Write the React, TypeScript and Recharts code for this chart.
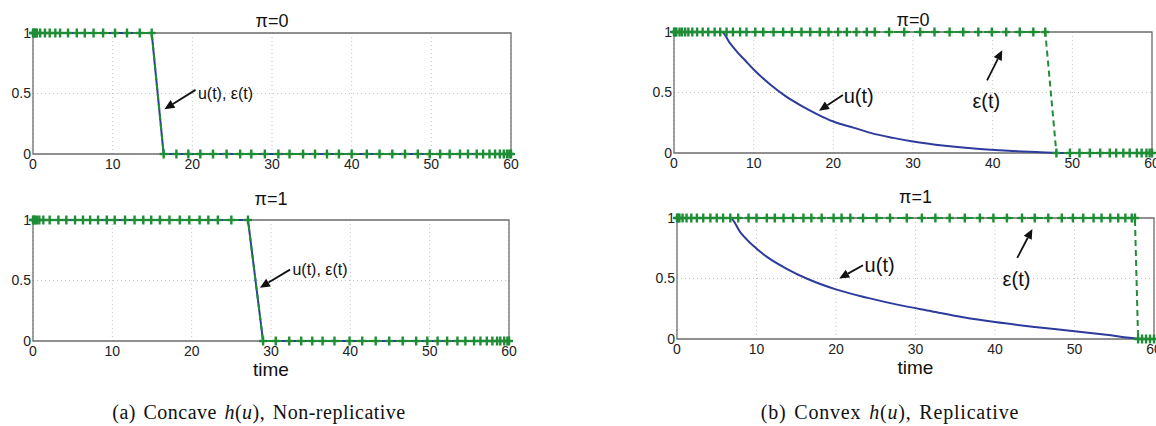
import { LineChart, Line, XAxis, YAxis, CartesianGrid, ReferenceArea, ReferenceLine, ReferenceDot } from 'recharts';

// time axis ticks / value ticks
const xTicks = [0, 10, 20, 30, 40, 50, 60];
const yTicks = [0, 0.5, 1];

// (a) top, pi=0 : epsilon markers at 1 and at 0
const aTopEpsHigh = [0, 0.1, 0.2, 0.35, 0.5, 0.9, 1.5, 2.1, 2.8, 3.4, 4.4, 5.5, 6.5, 7.6, 8.8, 10.3, 11.8, 13.4, 14.9];
const aTopEpsLow = [16.4, 18.0, 19.5, 21.0, 22.6, 24.3, 26.0, 27.4, 29.1, 30.8, 32.2, 33.9, 35.4, 36.9, 38.4, 40.0, 41.9, 43.5, 45.1, 46.7, 48.3, 49.8, 51.1, 52.3, 53.6, 54.6, 55.7, 56.5, 57.3, 58.0, 58.6, 59.1, 59.5, 59.8, 60];
const aTopUTime = [0, 14.9, 16.4, 60];
const aTopUVal = [1, 1, 0, 0];

// (a) bottom, pi=1
const aBotEpsHigh = [0, 0.1, 0.25, 0.5, 0.8, 1.3, 2.1, 3.2, 4.2, 5.3, 6.3, 7.2, 8.2, 9.3, 10.3, 11.6, 12.8, 13.9, 14.9, 16.0, 17.2, 18.5, 19.7, 21.0, 22.1, 23.3, 25.0, 27.1];
const aBotEpsLow = [29.0, 30.6, 32.3, 33.8, 35.2, 36.5, 38.0, 39.9, 41.5, 43.2, 44.9, 46.6, 48.3, 49.7, 51.0, 52.2, 53.5, 54.5, 55.6, 56.4, 57.2, 57.9, 58.5, 58.9, 59.4, 59.8, 60];
const aBotUTime = [0, 27.1, 29.0, 60];
const aBotUVal = [1, 1, 0, 0];

// (b) top, pi=0
const bTopEpsHigh = [0, 0.15, 0.3, 0.7, 1.0, 1.4, 1.8, 2.3, 2.9, 3.6, 4.3, 5.1, 5.8, 6.6, 7.4, 8.3, 9.1, 10.2, 11.2, 12.5, 13.7, 14.8, 16.0, 17.1, 18.3, 19.4, 20.6, 21.7, 22.9, 24.2, 25.2, 27.0, 28.9, 30.9, 32.7, 34.6, 36.3, 38.2, 39.9, 41.7, 43.4, 45.1, 46.6];
const bTopEpsLow = [48.0, 49.7, 50.9, 52.2, 53.5, 54.7, 55.5, 56.4, 57.2, 58.1, 58.7, 59.3, 59.7, 60];
const bTopUTime = [0, 6.0, 7.0, 8.0, 9.0, 10.0, 12.0, 14.0, 16.0, 18.0, 20.0, 22.5, 25.0, 27.5, 30.0, 34.0, 38.0, 42.0, 46.0, 48.0, 60];
const bTopUVal = [1, 1, 0.91, 0.83, 0.76, 0.69, 0.57, 0.47, 0.39, 0.32, 0.26, 0.21, 0.16, 0.125, 0.095, 0.06, 0.035, 0.018, 0.006, 0, 0];

// (b) bottom, pi=1
const bBotEpsHigh = [0, 0.15, 0.3, 0.7, 1.2, 1.8, 2.5, 3.3, 4.2, 5.0, 5.8, 6.7, 7.7, 9.0, 10.0, 11.3, 12.3, 13.4, 14.6, 15.9, 16.9, 18.2, 19.7, 20.7, 21.8, 23.4, 25.1, 26.8, 28.9, 30.8, 32.5, 34.3, 36.2, 38.1, 39.8, 41.5, 43.4, 45.0, 46.7, 48.4, 49.8, 51.1, 52.4, 53.4, 54.5, 55.5, 56.4, 57.2, 57.6];
const bBotEpsLow = [58.0, 58.5, 59.0, 59.5, 60];
const bBotUTime = [0, 6.7, 8.0, 9.6, 11.5, 13.8, 16.3, 20.0, 24.0, 28.0, 32.0, 36.0, 40.0, 45.0, 50.0, 54.0, 58.0, 60];
const bBotUVal = [1, 1, 0.88, 0.77, 0.67, 0.58, 0.5, 0.41, 0.34, 0.28, 0.23, 0.18, 0.14, 0.1, 0.065, 0.035, 0.003, 0];

const BLUE = '#2d3b9c';
const GREEN = '#1f8c36';
const FONT = '"Liberation Sans", Arial, Helvetica, sans-serif';
const SERIF = '"Liberation Serif", "Times New Roman", serif';

const PAD_L = 40;
const PAD_R = 20;
const PAD_T = 25;
const PAD_B = 25;

type Row = { t: number; v: number };
type Note = { text: string; tx: number; ty: number; anchor: 'start' | 'middle'; size: number; from: [number, number]; to: [number, number] };

const pairs = (ts: number[], vs: number[]): Row[] => ts.map((t, i) => ({ t, v: vs[i] }));
const steps = (high: number[], low: number[]): Row[] => [
  ...high.map((t) => ({ t, v: 1 })),
  ...low.map((t) => ({ t, v: 0 })),
];

const panels = [
  {
    id: 'aTop', left: 33, top: 33, w: 478, h: 121, title: 'π=0', titleY: 21, time: false,
    eps: steps(aTopEpsHigh, aTopEpsLow), u: pairs(aTopUTime, aTopUVal), uType: 'linear',
    notes: [{ text: 'u(t), ε(t)', tx: 20.7, ty: 0.5, anchor: 'start', size: 16, from: [20.4, 0.53], to: [16.5, 0.37] }] as Note[],
  },
  {
    id: 'aBot', left: 33, top: 220, w: 476, h: 121, title: 'π=1', titleY: 199, time: true,
    eps: steps(aBotEpsHigh, aBotEpsLow), u: pairs(aBotUTime, aBotUVal), uType: 'linear',
    notes: [{ text: 'u(t), ε(t)', tx: 32.7, ty: 0.59, anchor: 'start', size: 16, from: [32.4, 0.59], to: [28.6, 0.44] }] as Note[],
  },
  {
    id: 'bTop', left: 674, top: 32, w: 478, h: 121, title: 'π=0', titleY: 20, time: false,
    eps: steps(bTopEpsHigh, bTopEpsLow), u: pairs(bTopUTime, bTopUVal), uType: 'monotone',
    notes: [
      { text: 'u(t)', tx: 21.3, ty: 0.47, anchor: 'start', size: 20, from: [21.2, 0.48], to: [18.2, 0.35] },
      { text: 'ε(t)', tx: 39.2, ty: 0.43, anchor: 'middle', size: 20, from: [39.3, 0.6], to: [41.2, 0.85] },
    ] as Note[],
  },
  {
    id: 'bBot', left: 677, top: 218, w: 477, h: 121, title: 'π=1', titleY: 197, time: true,
    eps: steps(bBotEpsHigh, bBotEpsLow), u: pairs(bBotUTime, bBotUVal), uType: 'monotone',
    notes: [
      { text: 'u(t)', tx: 23.6, ty: 0.61, anchor: 'start', size: 20, from: [23.4, 0.61], to: [20.4, 0.5] },
      { text: 'ε(t)', tx: 42.7, ty: 0.5, anchor: 'middle', size: 20, from: [42.8, 0.67], to: [44.7, 0.91] },
    ] as Note[],
  },
];

function PlusDot(props: any) {
  const { cx, cy, index } = props;
  if (cx == null || cy == null) return <g key={index} />;
  return (
    <g key={index} strokeDasharray="none">
      <line x1={cx - 4} y1={cy} x2={cx + 4} y2={cy} stroke={GREEN} strokeWidth={2.4} strokeDasharray="none" />
      <line x1={cx} y1={cy - 4.5} x2={cx} y2={cy + 4.5} stroke={GREEN} strokeWidth={2.4} strokeDasharray="none" />
    </g>
  );
}

function Arrow(props: any) {
  const { x1, y1, x2, y2 } = props;
  if ([x1, y1, x2, y2].some((n) => n == null || isNaN(n))) return <g />;
  const dx = x2 - x1;
  const dy = y2 - y1;
  const len = Math.sqrt(dx * dx + dy * dy) || 1;
  const ux = dx / len;
  const uy = dy / len;
  const bx = x2 - ux * 10;
  const by = y2 - uy * 10;
  const px = -uy * 4.5;
  const py = ux * 4.5;
  return (
    <g>
      <line x1={x1} y1={y1} x2={bx} y2={by} stroke="#111" strokeWidth={1.8} />
      <polygon points={`${x2},${y2} ${bx + px},${by + py} ${bx - px},${by - py}`} fill="#111" />
    </g>
  );
}

function Panel({ cfg }: { cfg: (typeof panels)[number] }) {
  const tickStyle = { fill: '#222', fontSize: 14, fontFamily: FONT };
  return (
    <div style={{ position: 'absolute', left: cfg.left - PAD_L, top: cfg.top - PAD_T }}>
      <LineChart
        width={cfg.w + PAD_L + PAD_R}
        height={cfg.h + PAD_T + PAD_B}
        margin={{ top: PAD_T, right: PAD_R, bottom: 0, left: 0 }}
      >
        <CartesianGrid stroke="#c4c4c4" strokeDasharray="1 3" />
        <XAxis
          type="number"
          dataKey="t"
          domain={[0, 60]}
          ticks={xTicks}
          axisLine={false}
          tickLine={false}
          tickSize={0}
          tickMargin={5}
          height={PAD_B}
          tick={tickStyle}
        />
        <YAxis
          type="number"
          domain={[0, 1]}
          ticks={yTicks}
          axisLine={false}
          tickLine={false}
          tickSize={0}
          tickMargin={2}
          width={PAD_L}
          tick={tickStyle}
        />
        <ReferenceArea x1={0} x2={60} y1={0} y2={1} fill="none" stroke="#6e6e6e" strokeWidth={1.3} ifOverflow="visible" />
        <Line
          data={cfg.u}
          dataKey="v"
          type={cfg.uType as any}
          stroke={BLUE}
          strokeWidth={2}
          dot={false}
          isAnimationActive={false}
        />
        <Line
          data={cfg.eps}
          dataKey="v"
          type="linear"
          stroke={GREEN}
          strokeWidth={2}
          strokeDasharray="6 4"
          dot={PlusDot}
          isAnimationActive={false}
        />
        {cfg.notes.map((n, i) => (
          <ReferenceLine
            key={`l${i}`}
            segment={[{ x: n.from[0], y: n.from[1] }, { x: n.to[0], y: n.to[1] }]}
            ifOverflow="visible"
            shape={Arrow}
          />
        ))}
        {cfg.notes.map((n, i) => (
          <ReferenceDot
            key={`d${i}`}
            x={n.tx}
            y={n.ty}
            ifOverflow="visible"
            shape={(p: any) => (
              <text
                x={p.cx}
                y={p.cy}
                textAnchor={n.anchor}
                dominantBaseline="central"
                fontFamily={FONT}
                fontSize={n.size}
                fill="#111"
              >
                {n.text}
              </text>
            )}
          />
        ))}
      </LineChart>
      <div
        style={{
          position: 'absolute', left: PAD_L, width: cfg.w, top: cfg.titleY - (cfg.top - PAD_T) - 10, textAlign: 'center',
          fontFamily: FONT, fontSize: 18, color: '#111', lineHeight: '20px',
        }}
      >
        {cfg.title}
      </div>
      {cfg.time && (
        <div
          style={{
            position: 'absolute', left: PAD_L, width: cfg.w, top: PAD_T + cfg.h + 19, textAlign: 'center',
            fontFamily: FONT, fontSize: 19, color: '#111', lineHeight: '20px',
          }}
        >
          time
        </div>
      )}
    </div>
  );
}

export default function App() {
  const capStyle = {
    position: 'absolute' as const, top: 400, fontFamily: SERIF, fontSize: 20, color: '#111',
    transform: 'translateX(-50%)', whiteSpace: 'nowrap' as const, letterSpacing: 0.5, wordSpacing: 2,
    lineHeight: '24px',
  };
  return (
    <div style={{ position: 'relative', width: 1156, height: 426, overflow: 'hidden', background: '#fff' }}>
      <style>{'body{margin:0}'}</style>
      {panels.map((p) => (
        <Panel key={p.id} cfg={p} />
      ))}
      <div style={{ ...capStyle, left: 259 }}>
        (a) Concave <i>h</i>(<i>u</i>), Non-replicative
      </div>
      <div style={{ ...capStyle, left: 890, letterSpacing: 0.8 }}>
        (b) Convex <i>h</i>(<i>u</i>), Replicative
      </div>
    </div>
  );
}
